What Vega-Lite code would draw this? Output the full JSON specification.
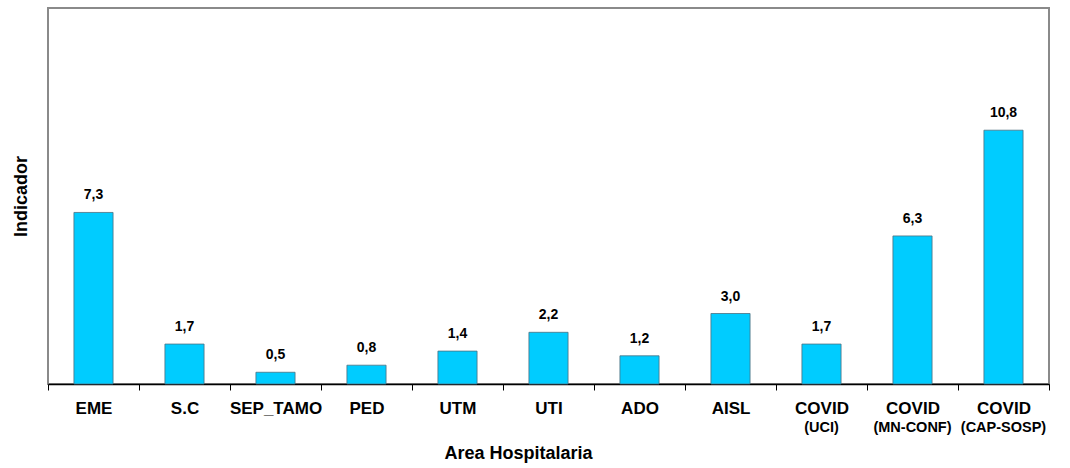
{
  "$schema": "https://vega.github.io/schema/vega-lite/v6.json",
  "width": 1001,
  "height": 376,
  "autosize": {"type": "none"},
  "padding": {"left": 48, "top": 8, "right": 21, "bottom": 84},
  "config": {
    "locale": {"number": {"decimal": ",", "thousands": ".", "grouping": [3], "currency": ["", ""]}},
    "view": {"stroke": "#8a8a8a", "strokeWidth": 2},
    "font": "Liberation Sans"
  },
  "data": {
    "values": [
      {"area": "EME", "sub": "", "value": 7.3},
      {"area": "S.C", "sub": "", "value": 1.7},
      {"area": "SEP_TAMO", "sub": "", "value": 0.5},
      {"area": "PED", "sub": "", "value": 0.8},
      {"area": "UTM", "sub": "", "value": 1.4},
      {"area": "UTI", "sub": "", "value": 2.2},
      {"area": "ADO", "sub": "", "value": 1.2},
      {"area": "AISL", "sub": "", "value": 3.0},
      {"area": "COVID (UCI)", "sub": "(UCI)", "value": 1.7},
      {"area": "COVID (MN-CONF)", "sub": "(MN-CONF)", "value": 6.3},
      {"area": "COVID (CAP-SOSP)", "sub": "(CAP-SOSP)", "value": 10.8}
    ]
  },
  "encoding": {
    "x": {
      "field": "area",
      "type": "nominal",
      "sort": null,
      "scale": {"paddingInner": 0, "paddingOuter": 0},
      "axis": {
        "title": "Area Hospitalaria",
        "titleFont": "Liberation Sans",
        "titleFontSize": 18,
        "titleFontWeight": "bold",
        "titleColor": "#000",
        "titlePadding": 28,
        "titleX": 470,
        "titleAlign": "center",
        "labelExpr": "split(datum.label, ' (')[0]",
        "labelFont": "Liberation Sans",
        "labelFontSize": 17,
        "labelFontWeight": "bold",
        "labelColor": "#000",
        "labelAngle": 0,
        "labelPadding": 10,
        "labelBaseline": "top",
        "tickBand": "extent",
        "tickSize": 6,
        "tickColor": "#000",
        "domainColor": "#000",
        "domainWidth": 1.5
      }
    },
    "y": {
      "field": "value",
      "type": "quantitative",
      "scale": {"domain": [0, 16]},
      "axis": {
        "title": "Indicador",
        "titleFont": "Liberation Sans",
        "titleFontSize": 18,
        "titleFontWeight": "bold",
        "titleColor": "#000",
        "titlePadding": 18,
        "labels": false,
        "ticks": false,
        "grid": false,
        "domain": false
      }
    }
  },
  "layer": [
    {
      "mark": {"type": "bar", "width": {"band": 0.43}, "color": "#00CCFF", "stroke": "#4d7080", "strokeWidth": 0.8}
    },
    {
      "mark": {"type": "text", "baseline": "bottom", "dy": -10, "fontSize": 14, "fontWeight": "bold", "color": "#000"},
      "encoding": {"text": {"field": "value", "type": "quantitative", "format": ".1f"}}
    },
    {
      "mark": {"type": "text", "baseline": "top", "dy": 37, "fontSize": 14.5, "fontWeight": "bold", "color": "#000"},
      "encoding": {
        "y": {"datum": 0},
        "text": {"field": "sub", "type": "nominal"}
      }
    }
  ]
}
